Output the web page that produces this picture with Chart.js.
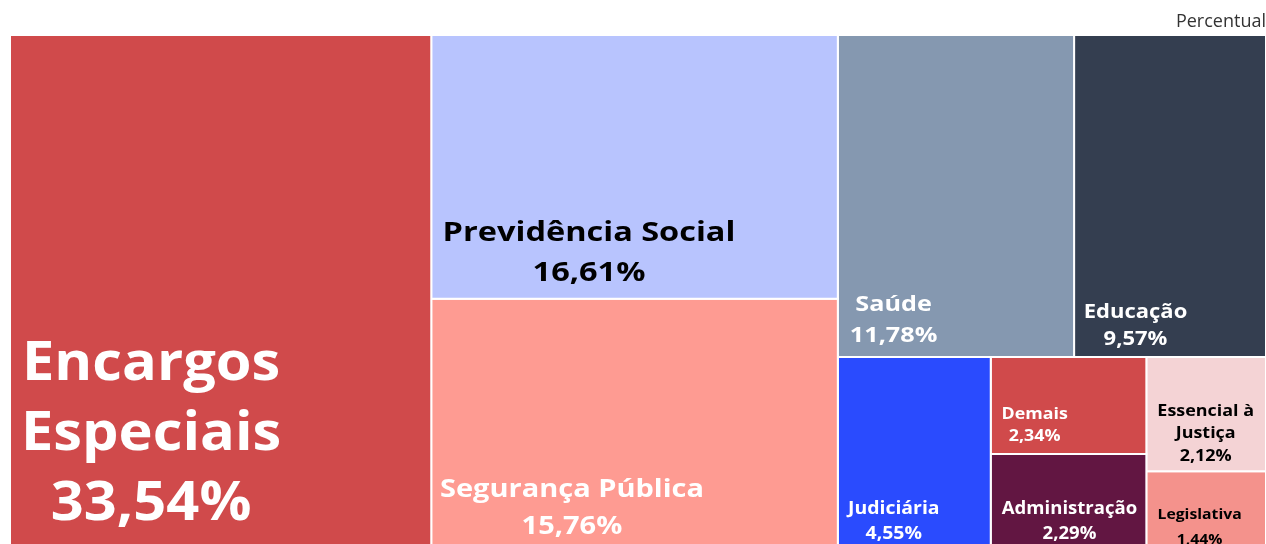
<!DOCTYPE html>
<html>
<head>
<meta charset="utf-8">
<script src="https://cdn.jsdelivr.net/npm/chart.js@4"></script>
<style>
  html, body { margin: 0; padding: 0; background: #fff; }
  #wrap { width: 1266px; height: 544px; }
</style>
</head>
<body>
<div id="wrap"><canvas id="treemap"></canvas></div>
<script>
// dados (percentual por função)
const categories = [
  ['Encargos', 'Especiais'],
  ['Previdência Social'],
  ['Segurança Pública'],
  ['Saúde'],
  ['Educação'],
  ['Judiciária'],
  ['Demais'],
  ['Administração'],
  ['Essencial à', 'Justiça'],
  ['Legislativa']
];
const values = [33.54, 16.61, 15.76, 11.78, 9.57, 4.55, 2.34, 2.29, 2.12, 1.44];

const fillColors = ['#D04A4B', '#B8C4FE', '#FE9B92', '#8598B0', '#343E50',
                    '#2A4BFE', '#D04A4B', '#621642', '#F4D3D5', '#F4928C'];
const textColors = ['#fff', '#000', '#fff', '#fff', '#fff', '#fff', '#fff', '#fff', '#000', '#000'];

// posição do rótulo dentro da célula (fração), fonte, espaçamento e largura
const labelStyle = [
  { fx: 0.335, fy: 0.778, size: 53, gap: 70, sx: 1.09 },
  { fx: 0.388, fy: 0.830, size: 26, gap: 40, sx: 1.25 },
  { fx: 0.346, fy: 0.838, size: 25, gap: 37, sx: 1.16 },
  { fx: 0.236, fy: 0.888, size: 21, gap: 31, sx: 1.20 },
  { fx: 0.320, fy: 0.902, size: 20, gap: 27, sx: 1.10 },
  { fx: 0.366, fy: 0.854, size: 18, gap: 25, sx: 1.08 },
  { fx: 0.282, fy: 0.707, size: 16.5, gap: 22, sx: 1.08 },
  { fx: 0.506, fy: 0.710, size: 17.5, gap: 25, sx: 1.06 },
  { fx: 0.496, fy: 0.670, size: 16, gap: 22.5, sx: 1.12 },
  { fx: 0.445, fy: 0.720, size: 15, gap: 25, sx: 1.05 }
];

// proporção da área do gráfico (largura x altura) usada no squarify
const AREA_W = 1256, AREA_H = 514;

function worst(row, side) {
  const s = row.reduce((a, b) => a + b, 0);
  const max = Math.max(...row), min = Math.min(...row);
  return Math.max(side * side * max / (s * s), (s * s) / (side * side * min));
}

// algoritmo squarified
function squarify(vals, rect) {
  const total = vals.reduce((a, b) => a + b, 0);
  const k = rect.w * rect.h / total;
  const areas = vals.map(v => v * k);
  const out = [];
  let r = Object.assign({}, rect);
  let i = 0;
  while (i < areas.length) {
    const side = Math.min(r.w, r.h);
    const row = [areas[i]];
    let j = i + 1;
    while (j < areas.length && worst(row.concat(areas[j]), side) <= worst(row, side)) {
      row.push(areas[j]);
      j++;
    }
    const sum = row.reduce((a, b) => a + b, 0);
    if (r.w >= r.h) {
      const cw = sum / r.h;
      let y = r.y;
      row.forEach(a => { const h = a / cw; out.push({ x: r.x, y: y, w: cw, h: h }); y += h; });
      r = { x: r.x + cw, y: r.y, w: r.w - cw, h: r.h };
    } else {
      const rh = sum / r.w;
      let x = r.x;
      row.forEach(a => { const w = a / rh; out.push({ x: x, y: r.y, w: w, h: rh }); x += w; });
      r = { x: r.x, y: r.y + rh, w: r.w, h: r.h - rh };
    }
    i = j;
  }
  return out;
}

// células em unidades 0..100 nos dois eixos
const cells = squarify(values, { x: 0, y: 0, w: AREA_W, h: AREA_H }).map(c => ({
  x0: c.x / AREA_W * 100,
  x1: (c.x + c.w) / AREA_W * 100,
  y0: c.y / AREA_H * 100,
  y1: (c.y + c.h) / AREA_H * 100
}));

const datasets = cells.map((c, i) => ({
  label: categories[i].join(' '),
  data: [
    { x: c.x0, y: c.y0 }, { x: c.x1, y: c.y0 },
    { x: c.x1, y: c.y1 }, { x: c.x0, y: c.y1 },
    { x: c.x0, y: c.y0 }
  ],
  showLine: true,
  fill: 'shape',
  backgroundColor: fillColors[i],
  borderColor: '#fff',
  borderWidth: 2,
  pointRadius: 0,
  pointHoverRadius: 0,
  tension: 0
}));

function fmt(v) {
  return v.toFixed(2).replace('.', ',') + '%';
}

const labelPlugin = {
  id: 'cellLabels',
  afterDatasetsDraw(chart) {
    const ctx = chart.ctx;
    const xs = chart.scales.x, ys = chart.scales.y;
    cells.forEach((c, i) => {
      const left = xs.getPixelForValue(c.x0), right = xs.getPixelForValue(c.x1);
      const top = ys.getPixelForValue(c.y0), bottom = ys.getPixelForValue(c.y1);
      const st = labelStyle[i];
      const lines = categories[i].concat([fmt(values[i])]);
      const cx = left + (right - left) * st.fx;
      const cy = top + (bottom - top) * st.fy;
      const startY = cy - (lines.length - 1) * st.gap / 2;
      lines.forEach((t, k) => {
        ctx.save();
        ctx.translate(cx, startY + k * st.gap);
        ctx.scale(st.sx, 1);
        ctx.fillStyle = textColors[i];
        ctx.font = 'bold ' + st.size + 'px "Open Sans", sans-serif';
        ctx.textAlign = 'center';
        ctx.textBaseline = 'middle';
        ctx.fillText(t, 0, 0);
        ctx.restore();
      });
    });
  }
};

new Chart(document.getElementById('treemap'), {
  type: 'scatter',
  data: { datasets: datasets },
  plugins: [labelPlugin],
  options: {
    responsive: true,
    maintainAspectRatio: false,
    animation: false,
    events: [],
    layout: { padding: { left: 10, right: 0, top: 0, bottom: 0 } },
    scales: {
      x: { type: 'linear', min: 0, max: 100, display: false },
      // a imagem corta a parte de baixo do gráfico
      y: { type: 'linear', min: 0, max: 100 * 509 / 514, reverse: true, display: false }
    },
    plugins: {
      legend: { display: false },
      tooltip: { enabled: false },
      title: {
        display: true,
        text: 'Percentual',
        align: 'end',
        color: '#333',
        font: { family: '"Open Sans", sans-serif', size: 18, weight: 'normal', lineHeight: 1.2 },
        padding: { top: 11, bottom: 2.4 }
      }
    }
  }
});
</script>
</body>
</html>
